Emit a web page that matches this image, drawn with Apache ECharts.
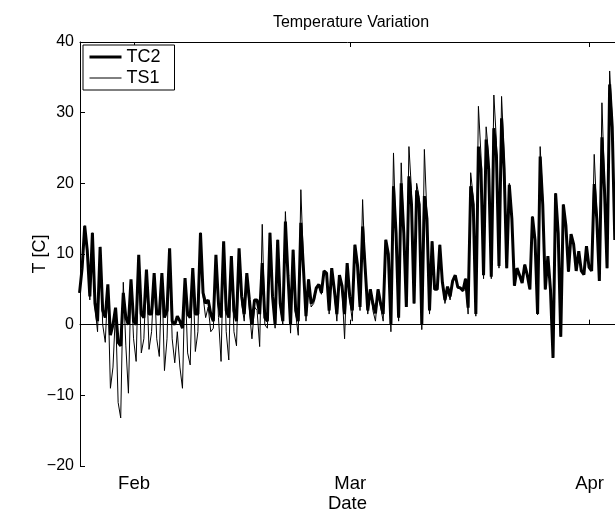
<!DOCTYPE html>
<html>
<head>
<meta charset="utf-8">
<script src="https://cdn.jsdelivr.net/npm/echarts@6/dist/echarts.min.js"></script>
<style>
html, body { margin: 0; padding: 0; background: #fff; }
#chart { width: 615px; height: 519px; }
</style>
</head>
<body>
<div id="chart"></div>
<script>
// time axis in days of the year (Jan 1 = 0), three samples a day
var startDay = 23.94;
var stepDay = 1 / 3;

var monthTicks = [31, 59, 90];
var monthNames = ['Feb', 'Mar', 'Apr'];

var tc2 = [
  4.5, 8, 14,   10.5, 4, 13,   3, 0.5, 11,   2, 1, 5.7,   -1.5, 0, 2.4,
  -2.5, -3, 4.5,   1, 0, 6.4,   0.5, 0, 9.9,   1.5, 1, 7.8,   1.5, 1.5, 7.3,
  1.5, 1.5, 7.3,   1, 2, 10.8,   0.5, 0, 1.2,   0.5, -0.5, 6.6,   1.5, 1, 8,
  1.5, 1.5, 13,   4.5, 3, 3.5,   1.5, 0.5, 9.9,   3, 1, 11.8,   2, 1, 9.7,
  2, 0.5, 10.8,   4, 1.5, 7.3,   3.5, 0, 3.5,   3.5, 1.5, 8.7,   1, 0.5, 13,
  4, 0, 12,   3, 0.5, 14.6,   7, 0, 10.6,   2, 0.5, 14.4,   8, 1.2, 6.4,
  3, 3.5, 5.2,   5.7, 4.5, 7.6,   7.3, 2, 8,   5, 1.5, 7,   5.5, 1.5, 8.7,
  4, 2, 11.3,   8.5, 2.5, 13.9,   8, 2, 5,   3, 1.6, 5,   3, 1.5, 12,
  10, 0, 19.6,   13, 1, 20,   13, 2.5, 21,   17, 3, 19,   17, 0, 18.2,
  15, 2, 11.8,   5, 5, 11.3,   6, 3.5, 5.4,   4, 6.2, 7,   5.3, 5.2, 4.8,
  6.5, 2.4, 19.6,   17, 1.5, 25.2,   22, 7, 26.2,   22, 6.8, 27.8,   24, 8.3, 29.2,
  22, 8, 19.8,   15, 5.5, 8,   7, 5.9, 8.5,   7, 5, 15.3,   12, 1.5, 23.8,
  17, 5, 9.7,   5, -4.7, 18.6,   13, -1.7, 17,   14, 7.5, 12.8,   11.4, 7.6, 10.4,
  7.6, 7.1, 11.1,   8.1, 7.6, 19.9,   15, 6.2, 26.5,   19, 8, 34,   28, 12, 16,
  10, 9, 20
];

var ts1 = [
  4.5, 8, 14,   10.5, 3.5, 13,   2.5, -1, 11,   0, -2.5, 5.5,   -9, -6, 2,
  -11, -13.2, 6,   -3, -9.7, 6,   -2, -5.2, 9.5,   -4, -2, 7.5,   -3.5, -1, 7,
  -2, -4.5, 7,   -6.5, -2, 10.5,   -2, -5.4, -1,   -6, -9, 6.5,   -4, -5.7, 8,
  -3.8, -1, 13,   4, 1, 2.5,   -1, -0.5, 9.5,   1, -5.2, 11.5,   -1, -5, 9.5,
  -1, -3, 10.5,   3, 0.5, 7,   2, -2, 2.5,   2, -3.1, 14.2,   0, -0.5, 13,
  4, -0.5, 12,   2.5, 0, 16,   7, -1.2, 10.6,   1.5, -1.5, 19.1,   9, 0.5, 6.4,
  2.5, 3, 5,   5.5, 4.3, 7.5,   7.2, 1.5, 8,   4.5, 0.5, 7,   5, -2, 8.7,
  3.5, 0.5, 11.3,   8.5, 2, 17.7,   8, 1.5, 5,   2, 0.5, 5,   2.5, 0.5, 12,
  10, -1, 24.3,   12, 0.5, 22.9,   13, 2.5, 25.2,   19, 3, 20,   18, -0.7, 24.8,
  15.5, 1.5, 11.8,   5, 5, 11.3,   6, 3, 5,   3.5, 6, 7,   5.3, 5, 4.7,
  6.5, 1.5, 21.5,   18, 1.2, 30.9,   24, 6.5, 28,   24, 6.5, 32.5,   26, 8, 32.3,
  24, 8, 20,   15, 5.5, 8,   7, 5.9, 8.5,   7, 5, 15.3,   12, 1.4, 25.2,
  18, 5, 9.7,   5, -4.7, 18.6,   13, -1.7, 17,   14, 7.5, 12.8,   11.4, 7.6, 10.4,
  7.6, 7.1, 11.1,   8.1, 7.6, 24.1,   16, 6.2, 31.4,   20, 8, 35.9,   29, 12, 16,
  10, 9, 22
];

function pairs(vals) {
  var out = [];
  for (var i = 0; i < vals.length; i++) {
    out.push([startDay + i * stepDay, vals[i]]);
  }
  return out;
}

var font = 'Liberation Sans, Arial, Helvetica, sans-serif';
var chart = echarts.init(document.getElementById('chart'));

var axisLine = { show: true, lineStyle: { color: '#000', width: 1 } };
var xTick = { show: true, inside: true, length: 5, customValues: monthTicks, lineStyle: { color: '#000' } };

chart.setOption({
  animation: false,
  backgroundColor: '#fff',
  title: {
    text: 'Temperature Variation',
    left: 346,
    top: 10,
    textAlign: 'center',
    textStyle: { fontFamily: font, fontSize: 16, fontWeight: 'normal', color: '#000' }
  },
  legend: {
    left: 83,
    top: 45,
    orient: 'vertical',
    padding: [3, 14, 3, 5],
    itemGap: 3,
    itemWidth: 32,
    itemHeight: 14,
    borderColor: '#000',
    borderWidth: 1,
    borderRadius: 0,
    backgroundColor: '#fff',
    itemStyle: { opacity: 0 },
    textStyle: { fontFamily: font, fontSize: 18, color: '#000' },
    data: [
      { name: 'TC2', lineStyle: { width: 3 } },
      { name: 'TS1', lineStyle: { width: 1 } }
    ]
  },
  // the right edge of the box lies outside the picture
  grid: { left: 80, top: 42, right: 0, bottom: 53 },
  xAxis: [{
    type: 'value',
    min: 24,
    max: 93.3,
    name: 'Date',
    nameLocation: 'middle',
    nameGap: 28,
    nameMoveOverlap: false,
    nameTextStyle: { fontFamily: font, fontSize: 18.5, color: '#000' },
    axisLine: axisLine,
    axisTick: xTick,
    axisLabel: {
      customValues: monthTicks,
      margin: 8,
      fontFamily: font,
      fontSize: 18.5,
      color: '#000',
      formatter: function (v) { return monthNames[monthTicks.indexOf(v)]; }
    },
    splitLine: { show: false }
  }, {
    type: 'value',
    position: 'top',
    min: 24,
    max: 93.3,
    axisLine: axisLine,
    axisTick: xTick,
    axisLabel: { show: false },
    splitLine: { show: false }
  }],
  yAxis: {
    type: 'value',
    min: -20,
    max: 40,
    interval: 10,
    name: 'T [C]',
    nameLocation: 'middle',
    nameRotate: 90,
    nameGap: 31,
    nameMoveOverlap: false,
    nameTextStyle: { fontFamily: font, fontSize: 18, color: '#000' },
    axisLine: axisLine,
    axisTick: { show: true, inside: true, length: 5, lineStyle: { color: '#000' } },
    axisLabel: {
      margin: 6,
      fontFamily: font,
      fontSize: 16,
      color: '#000',
      formatter: function (v) { return v < 0 ? '\u2212' + Math.abs(v) : String(v); }
    },
    splitLine: { show: false }
  },
  series: [{
    name: 'TC2',
    type: 'line',
    symbol: 'none',
    data: pairs(tc2),
    lineStyle: { color: '#000', width: 3 },
    itemStyle: { color: '#000' },
    z: 2
  }, {
    name: 'TS1',
    type: 'line',
    symbol: 'none',
    data: pairs(ts1),
    lineStyle: { color: '#000', width: 1 },
    itemStyle: { color: '#000' },
    z: 3
  }]
});
</script>
</body>
</html>
